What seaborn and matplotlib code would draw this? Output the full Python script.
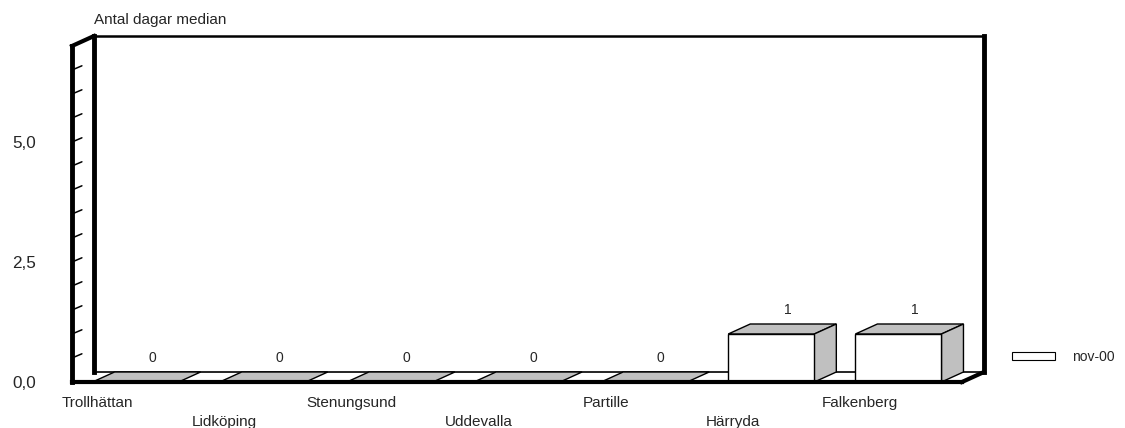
import matplotlib
matplotlib.use("Agg")
import matplotlib.pyplot as plt
from matplotlib.patches import Polygon, Patch
import seaborn as sns
import pandas as pd

# Median number of days per municipality, November 2000
cities = ["Trollhättan", "Lidköping", "Stenungsund", "Uddevalla",
          "Partille", "Härryda", "Falkenberg"]
values = [0, 0, 0, 0, 0, 1, 1]
series_name = "nov-00"
y_ticks = [0.0, 2.5, 5.0]
y_tick_labels = ["0,0", "2,5", "5,0"]
y_max = 7.0
title = "Antal dagar median"

sns.set_theme(style="white")
plt.rcParams["font.family"] = ["Liberation Sans", "DejaVu Sans"]

W, H = 1125, 428
fig = plt.figure(figsize=(W / 100, H / 100), dpi=100)
fig.patch.set_facecolor("white")

# axes = front plane of the 3-D box (pixel geometry of the plot area)
left_px, right_px, top_px, bottom_px = 72, 962, 46, 382
ax = fig.add_axes([left_px / W, 1 - bottom_px / H,
                   (right_px - left_px) / W, (bottom_px - top_px) / H])
ax.set_facecolor("none")

df = pd.DataFrame({"city": cities, "value": values})
sns.barplot(data=df, x="city", y="value", color="white", edgecolor="black",
            linewidth=1.0, width=0.677, saturation=1, ax=ax, zorder=5,
            err_kws={"linewidth": 0})
bars = list(ax.patches)

ax.set_xlim(-0.5, len(cities) - 0.5)
ax.set_ylim(0, y_max)
for s in ax.spines.values():
    s.set_visible(False)
ax.set_xlabel("")
ax.set_ylabel("")
ax.set_xticks([])
ax.set_yticks(y_ticks)
ax.set_yticklabels(y_tick_labels, fontsize=12.3)
ax.tick_params(axis="y", length=0, pad=26)

# depth of the box in data units
px_x = (right_px - left_px) / len(cities)
px_y = (bottom_px - top_px) / y_max
dx = 22 / px_x
dy = 10 / px_y
x0, x1 = -0.5, len(cities) - 0.5
gray = "#C0C0C0"
kw = dict(color="black", clip_on=False, solid_capstyle="projecting")

# back wall and floor back edge
ax.plot([x0 + dx, x0 + dx], [dy, y_max + dy], lw=3.5, zorder=2, **kw)
ax.plot([x0 + dx, x1 + dx], [y_max + dy, y_max + dy], lw=1.8, zorder=2, **kw)
ax.plot([x1 + dx, x1 + dx], [dy, y_max + dy], lw=3.5, zorder=2, **kw)
ax.plot([x0 + dx, x1 + dx], [dy, dy], lw=1.2, zorder=2, **kw)

# left wall: front axis line, top connector, diagonal minor ticks
ax.plot([x0, x0], [0, y_max], lw=3.5, zorder=8, **kw)
ax.plot([x0, x0 + dx], [y_max, y_max + dy], lw=3.0, zorder=8, **kw)
v = 0.5
while v < y_max:
    ax.plot([x0, x0 + 0.45 * dx], [v, v + 0.42 * dy], color="black",
            lw=1.1, clip_on=False, zorder=8)
    v += 0.5

# 3-D faces for every bar
for p, val in zip(bars, values):
    bx, bw, bh = p.get_x(), p.get_width(), p.get_height()
    top = Polygon([(bx, bh), (bx + bw, bh), (bx + bw + dx, bh + dy),
                   (bx + dx, bh + dy)], closed=True, facecolor=gray,
                  edgecolor="black", lw=1.0, zorder=4, clip_on=False)
    ax.add_patch(top)
    if bh > 0:
        side = Polygon([(bx + bw, 0), (bx + bw + dx, dy),
                        (bx + bw + dx, bh + dy), (bx + bw, bh)], closed=True,
                       facecolor=gray, edgecolor="black", lw=1.0, zorder=4,
                       clip_on=False)
        ax.add_patch(side)
    ax.text(bx + bw / 2 + 0.13, val + 0.5, f"{val:g}", ha="center",
            va="center", fontsize=10, zorder=9)

# floor front edge and right edge
ax.plot([x0, x1], [0, 0], lw=3.0, zorder=8, **kw)
ax.plot([x1, x1 + dx], [0, dy], lw=3.0, zorder=8, **kw)

# staggered category labels
trans = ax.get_xaxis_transform()
for i, name in enumerate(cities):
    off = 21 if i % 2 == 0 else 40
    ax.annotate(name, xy=(i - 0.3, 0), xycoords=trans,
                xytext=(0, -off * 0.72), textcoords="offset points",
                ha="center", va="center", fontsize=11, annotation_clip=False)

fig.text(94 / W, 1 - 20 / H, title, ha="left", va="center", fontsize=11)

handle = Patch(facecolor="white", edgecolor="black", linewidth=0.8)
fig.legend([handle], [series_name], loc="center left",
           bbox_to_anchor=(1012 / W, 1 - 357 / H), frameon=False,
           fontsize=10, handlelength=3.1, handleheight=0.5,
           handletextpad=1.2, borderpad=0, borderaxespad=0)

fig.savefig("out.png", dpi=100, facecolor="white")
